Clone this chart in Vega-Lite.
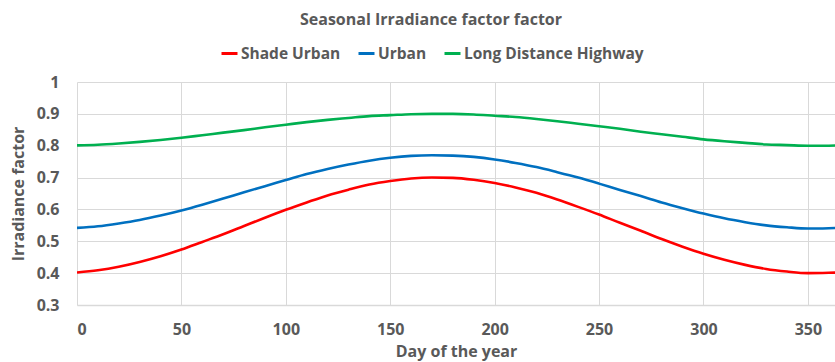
{
  "$schema": "https://vega.github.io/schema/vega-lite/v6.json",
  "width": 758,
  "height": 223,
  "autosize": {"type": "none"},
  "padding": {"left": 77, "top": 82, "right": 0, "bottom": 57},
  "background": "white",
  "title": {
    "text": "Seasonal Irradiance factor factor",
    "anchor": "middle",
    "dx": -25,
    "offset": 16,
    "font": "Open Sans",
    "fontSize": 16,
    "fontWeight": "bold",
    "color": "#595959"
  },
  "data": {
    "values": [
      {"day": 0, "Shade Urban": 0.402, "Urban": 0.542, "Long Distance Highway": 0.801},
      {"day": 10, "Shade Urban": 0.409, "Urban": 0.547, "Long Distance Highway": 0.803},
      {"day": 20, "Shade Urban": 0.420, "Urban": 0.556, "Long Distance Highway": 0.807},
      {"day": 30, "Shade Urban": 0.435, "Urban": 0.567, "Long Distance Highway": 0.812},
      {"day": 40, "Shade Urban": 0.453, "Urban": 0.581, "Long Distance Highway": 0.818},
      {"day": 50, "Shade Urban": 0.474, "Urban": 0.597, "Long Distance Highway": 0.825},
      {"day": 60, "Shade Urban": 0.498, "Urban": 0.615, "Long Distance Highway": 0.833},
      {"day": 70, "Shade Urban": 0.522, "Urban": 0.634, "Long Distance Highway": 0.841},
      {"day": 80, "Shade Urban": 0.548, "Urban": 0.654, "Long Distance Highway": 0.849},
      {"day": 90, "Shade Urban": 0.574, "Urban": 0.673, "Long Distance Highway": 0.858},
      {"day": 100, "Shade Urban": 0.599, "Urban": 0.692, "Long Distance Highway": 0.866},
      {"day": 110, "Shade Urban": 0.622, "Urban": 0.711, "Long Distance Highway": 0.874},
      {"day": 120, "Shade Urban": 0.644, "Urban": 0.727, "Long Distance Highway": 0.881},
      {"day": 130, "Shade Urban": 0.662, "Urban": 0.741, "Long Distance Highway": 0.887},
      {"day": 140, "Shade Urban": 0.678, "Urban": 0.753, "Long Distance Highway": 0.893},
      {"day": 150, "Shade Urban": 0.689, "Urban": 0.762, "Long Distance Highway": 0.896},
      {"day": 160, "Shade Urban": 0.697, "Urban": 0.768, "Long Distance Highway": 0.899},
      {"day": 170, "Shade Urban": 0.700, "Urban": 0.770, "Long Distance Highway": 0.900},
      {"day": 180, "Shade Urban": 0.699, "Urban": 0.769, "Long Distance Highway": 0.900},
      {"day": 190, "Shade Urban": 0.693, "Urban": 0.765, "Long Distance Highway": 0.898},
      {"day": 200, "Shade Urban": 0.683, "Urban": 0.757, "Long Distance Highway": 0.894},
      {"day": 210, "Shade Urban": 0.669, "Urban": 0.746, "Long Distance Highway": 0.890},
      {"day": 220, "Shade Urban": 0.652, "Urban": 0.733, "Long Distance Highway": 0.884},
      {"day": 230, "Shade Urban": 0.631, "Urban": 0.717, "Long Distance Highway": 0.877},
      {"day": 240, "Shade Urban": 0.608, "Urban": 0.700, "Long Distance Highway": 0.869},
      {"day": 250, "Shade Urban": 0.584, "Urban": 0.681, "Long Distance Highway": 0.861},
      {"day": 260, "Shade Urban": 0.558, "Urban": 0.661, "Long Distance Highway": 0.853},
      {"day": 270, "Shade Urban": 0.533, "Urban": 0.642, "Long Distance Highway": 0.844},
      {"day": 280, "Shade Urban": 0.507, "Urban": 0.622, "Long Distance Highway": 0.836},
      {"day": 290, "Shade Urban": 0.483, "Urban": 0.604, "Long Distance Highway": 0.828},
      {"day": 300, "Shade Urban": 0.461, "Urban": 0.587, "Long Distance Highway": 0.820},
      {"day": 310, "Shade Urban": 0.442, "Urban": 0.572, "Long Distance Highway": 0.814},
      {"day": 320, "Shade Urban": 0.426, "Urban": 0.560, "Long Distance Highway": 0.809},
      {"day": 330, "Shade Urban": 0.413, "Urban": 0.550, "Long Distance Highway": 0.804},
      {"day": 340, "Shade Urban": 0.405, "Urban": 0.544, "Long Distance Highway": 0.802},
      {"day": 350, "Shade Urban": 0.400, "Urban": 0.540, "Long Distance Highway": 0.800},
      {"day": 360, "Shade Urban": 0.401, "Urban": 0.541, "Long Distance Highway": 0.800},
      {"day": 365, "Shade Urban": 0.402, "Urban": 0.542, "Long Distance Highway": 0.801}
    ]
  },
  "transform": [
    {"fold": ["Shade Urban", "Urban", "Long Distance Highway"], "as": ["series", "value"]}
  ],
  "mark": {"type": "line", "interpolate": "monotone", "strokeWidth": 2.6, "clip": true},
  "encoding": {
    "x": {
      "field": "day",
      "type": "quantitative",
      "scale": {"domain": [0, 363], "nice": false, "zero": false},
      "axis": {
        "title": "Day of the year",
        "values": [0, 50, 100, 150, 200, 250, 300, 350],
        "grid": true,
        "gridColor": "#d9d9d9",
        "domainColor": "#d9d9d9",
        "domainWidth": 1.5,
        "ticks": false,
        "labelPadding": 16,
        "labelFont": "Open Sans",
        "labelFontSize": 16,
        "labelFontWeight": "bold",
        "labelColor": "#595959",
        "titleFont": "Open Sans",
        "titleFontSize": 16,
        "titleFontWeight": "bold",
        "titleColor": "#595959",
        "titlePadding": 6
      }
    },
    "y": {
      "field": "value",
      "type": "quantitative",
      "scale": {"domain": [0.3, 1], "nice": false, "zero": false},
      "axis": {
        "title": "Irradiance factor",
        "values": [0.3, 0.4, 0.5, 0.6, 0.7, 0.8, 0.9, 1],
        "format": "~g",
        "grid": true,
        "gridColor": "#d9d9d9",
        "domain": false,
        "ticks": false,
        "labelPadding": 18,
        "labelFont": "Open Sans",
        "labelFontSize": 16,
        "labelFontWeight": "bold",
        "labelColor": "#595959",
        "titleFont": "Open Sans",
        "titleFontSize": 16,
        "titleFontWeight": "bold",
        "titleColor": "#595959",
        "titlePadding": 10
      }
    },
    "color": {
      "field": "series",
      "type": "nominal",
      "sort": ["Shade Urban", "Urban", "Long Distance Highway"],
      "scale": {
        "domain": ["Shade Urban", "Urban", "Long Distance Highway"],
        "range": ["#ff0000", "#0070c0", "#00b050"]
      },
      "legend": {
        "title": null,
        "orient": "none",
        "direction": "horizontal",
        "legendX": 143,
        "legendY": -38,
        "symbolType": "stroke",
        "symbolSize": 256,
        "symbolStrokeWidth": 3,
        "labelFont": "Open Sans",
        "labelFontSize": 15.5,
        "labelFontWeight": "bold",
        "labelColor": "#595959",
        "labelOffset": 2,
        "labelLimit": 400,
        "columnPadding": 11
      }
    }
  },
  "config": {"view": {"stroke": null}}
}
